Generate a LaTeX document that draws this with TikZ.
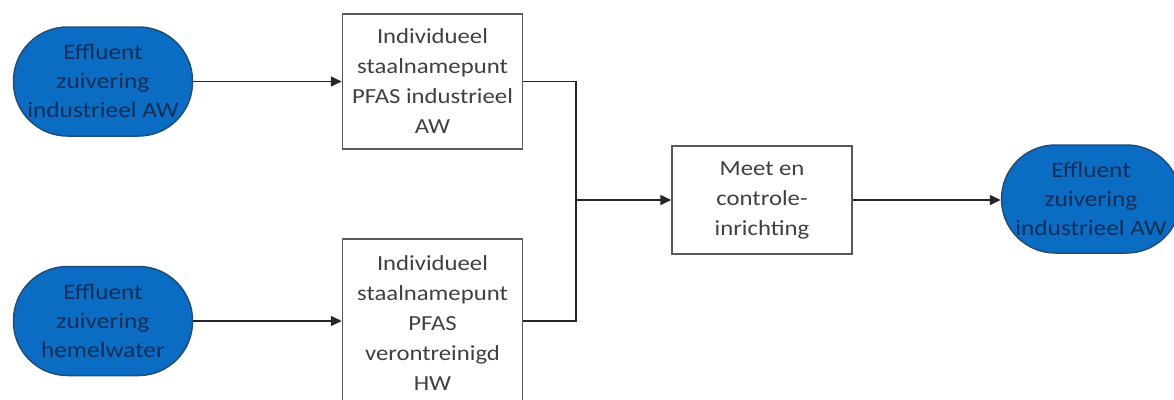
\documentclass[tikz,border=0pt]{standalone}
\usepackage{fontspec}
\setmainfont[FakeStretch=1.15]{Carlito}
\usetikzlibrary{arrows.meta}
\definecolor{blfill}{HTML}{0A6CC2}
\definecolor{bldraw}{HTML}{1F4E79}
\definecolor{bltext}{HTML}{132F58}
\definecolor{bxdraw}{HTML}{5A5A5A}
\definecolor{bxtext}{HTML}{404040}
\tikzset{
  stadium/.style={draw=bldraw, fill=blfill, line width=1.5pt, rounded corners=54pt,
    minimum width=179pt, minimum height=109pt, inner sep=0pt, align=center,
    text=bltext, font=\fontsize{22}{29}\selectfont},
  procbox/.style={draw=bxdraw, line width=1.5pt, minimum width=180pt, inner sep=0pt,
    align=center, text=bxtext, font=\fontsize{21.5}{30}\selectfont},
  flow/.style={line width=1.5pt, draw=black!85, -{Triangle[length=11pt,width=10pt]}},
  link/.style={line width=1.5pt, draw=black!85}
}
\begin{document}
\begin{tikzpicture}[x=1pt,y=-1pt]
\clip (0,0) rectangle (1174,399);
\fill[white] (0,0) rectangle (1174,399);
\node[stadium] (s1) at (103,81.5) {Effluent\\zuivering\\industrieel AW};
\node[stadium] (s2) at (103,321) {Effluent\\zuivering\\hemelwater};
\node[procbox, minimum height=135pt] (b1) at (432.5,81.5) {Individueel\\staalnamepunt\\PFAS industrieel\\AW};
\node[procbox, minimum height=168pt] (b2) at (432.5,323) {Individueel\\staalnamepunt\\PFAS\\verontreinigd\\HW};
\node[procbox, minimum height=108pt] (m) at (762,200) {Meet en\\controle-\\inrichting};
\node[stadium, minimum height=108pt] (s3) at (1091,199) {Effluent\\zuivering\\industrieel AW};
\coordinate (j) at (576,200);
\draw[flow] (s1.east) -- (b1.west |- s1.east);
\draw[flow] (s2.east) -- (b2.west |- s2.east);
\draw[link] (b1.east |- s1.east) -| (j);
\draw[link] (b2.east |- s2.east) -| (j);
\draw[flow] (j) -- (m.west);
\draw[flow] (m.east) -- (s3.west |- m.east);
\end{tikzpicture}
\end{document}
